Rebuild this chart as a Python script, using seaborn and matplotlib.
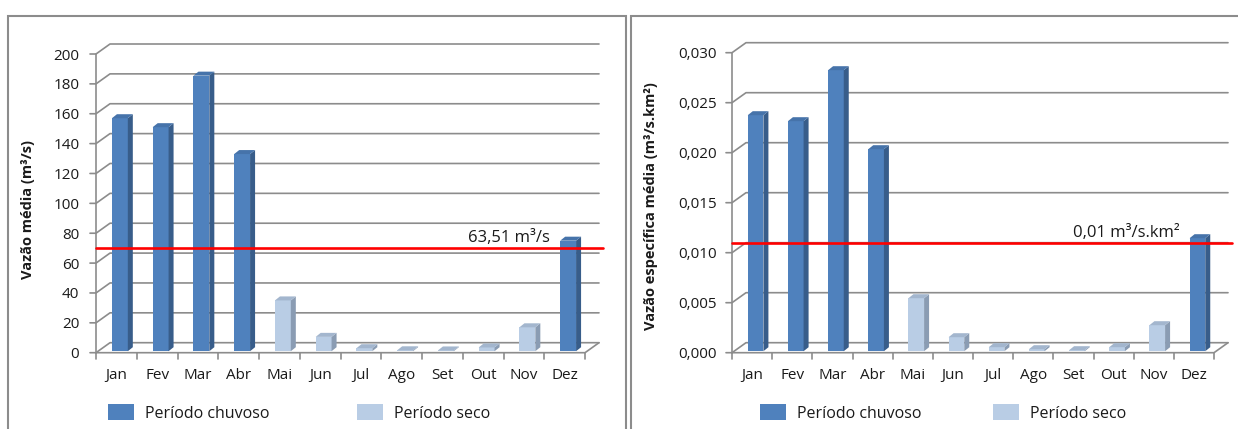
import numpy as np
import pandas as pd
import matplotlib
matplotlib.use("Agg")
import matplotlib.pyplot as plt
import seaborn as sns
from matplotlib.transforms import ScaledTranslation, IdentityTransform
from matplotlib.patches import Polygon, Patch, Rectangle
from matplotlib.lines import Line2D

# ---------------- data ----------------
meses = ["Jan", "Fev", "Mar", "Abr", "Mai", "Jun", "Jul", "Ago", "Set", "Out", "Nov", "Dez"]
periodo = ["Período chuvoso"] * 4 + ["Período seco"] * 7 + ["Período chuvoso"]
vazao_media = [156, 150, 184.5, 132, 34, 9.6, 2.0, 0.6, 0.5, 2.5, 16, 74]
vazao_especifica = [0.0236, 0.0230, 0.0281, 0.0202, 0.0053, 0.0014, 0.0004,
                    0.0002, 0.0001, 0.0004, 0.0026, 0.0113]
media_vazao = 63.51
media_especifica = 0.01
ticks_vazao = [0, 20, 40, 60, 80, 100, 120, 140, 160, 180, 200]
ticks_especifica = [0.0, 0.005, 0.010, 0.015, 0.020, 0.025, 0.030]
rotulos_especifica = ["0,000", "0,005", "0,010", "0,015", "0,020", "0,025", "0,030"]
rotulo_media_vazao = "63,51 m³/s"
rotulo_media_especifica = "0,01 m³/s.km²"
ylabel_vazao = "Vazão média (m³/s)"
ylabel_especifica = "Vazão específica média (m³/s.km²)"
categorias = ["Período chuvoso", "Período seco"]

# ---------------- style ----------------
sns.set_theme(style="white")
plt.rcParams["font.family"] = ["Open Sans", "DejaVu Sans"]
plt.rcParams["text.color"] = "#1a1a1a"

W, H, DPI = 1238, 429, 100
fig = plt.figure(figsize=(W / DPI, H / DPI), dpi=DPI)

front = {"Período chuvoso": "#4F81BD", "Período seco": "#B9CDE5"}
side = {"Período chuvoso": "#385D8A", "Período seco": "#8A9CB3"}
top = {"Período chuvoso": "#4673AA", "Período seco": "#A3B6CE"}
grid_c = "#8C8C8C"
DX, DY = 14, 10      # back-wall offset (px)
BDX, BDY = 5, 4      # bar depth (px)


def panel(rect, values, ticks, ticklabels, ylabel, mean, mean_label,
          ylabel_xy, ypad):
    ax = fig.add_axes([rect[0] / W, 1 - rect[3] / H,
                       (rect[2] - rect[0]) / W, (rect[3] - rect[1]) / H])
    df = pd.DataFrame({"Mês": meses, "Valor": values, "Período": periodo})
    sns.barplot(data=df, x="Mês", y="Valor", hue="Período", hue_order=categorias,
                palette=front, dodge=False, width=0.39, ax=ax, legend=False,
                saturation=1, edgecolor="none", zorder=3)
    ax.set_xlim(-0.5, len(meses) - 0.5)
    ax.set_ylim(ticks[0], ticks[-1])
    ax.set_yticks(ticks)
    ax.set_yticklabels(ticklabels)
    for s in ax.spines.values():
        s.set_visible(False)
    ax.set_facecolor("none")
    ax.tick_params(axis="both", length=0, colors="#1a1a1a")
    ax.tick_params(axis="y", labelsize=11, pad=ypad)
    ax.tick_params(axis="x", labelsize=11, pad=11)
    ax.set_xlabel("")
    ax.set_ylabel(ylabel, fontsize=10.5, fontweight="bold", color="#1a1a1a")
    ax.yaxis.set_label_coords(*ylabel_xy)

    P = lambda x, y: np.array(ax.transData.transform((x, y)))
    ident = IdentityTransform()
    x0, x1 = -0.5, len(meses) - 0.5

    # back wall gridlines + left diagonals
    for v in ticks:
        a = P(x0, v)
        b = a + [DX, DY]
        c = P(x1, v) + [DX, DY]
        ax.add_line(Line2D([a[0] - 6, a[0], b[0], c[0]], [a[1], a[1], b[1], c[1]],
                           transform=ident, color=grid_c, lw=1.2, zorder=1,
                           clip_on=False))
    # vertical front axis
    a, b = P(x0, ticks[0]), P(x0, ticks[-1])
    ax.add_line(Line2D([a[0], b[0]], [a[1], b[1]], transform=ident, color=grid_c,
                       lw=1.2, zorder=2, clip_on=False))
    # floor front edge + right diagonal
    a, b = P(x0, 0), P(x1, 0)
    ax.add_line(Line2D([a[0], b[0], b[0] + DX], [a[1], b[1], b[1] + DY],
                       transform=ident, color=grid_c, lw=1.2, zorder=2, clip_on=False))
    for k in range(len(meses) + 1):
        t = P(x0 + k, 0)
        ax.add_line(Line2D([t[0], t[0]], [t[1], t[1] - 6], transform=ident,
                           color=grid_c, lw=1.2, zorder=2, clip_on=False))

    # 3D bars: add side and top faces to every seaborn bar
    bars = [b for b in ax.patches if np.isfinite(b.get_height())]
    bars.sort(key=lambda b: b.get_x())
    shift = ScaledTranslation(3.5 / DPI, 1.5 / DPI, fig.dpi_scale_trans)
    for bar in bars:
        idx = int(round(bar.get_x() + bar.get_width() / 2))
        per = periodo[idx]
        bar.set_transform(ax.transData + shift)
        bx, by, bw, bh = bar.get_x(), bar.get_y(), bar.get_width(), bar.get_height()
        p0 = P(bx, by) + [3.5, 1.5]
        p1 = P(bx + bw, by + bh) + [3.5, 1.5]
        sidep = [(p1[0], p0[1]), (p1[0], p1[1]), (p1[0] + BDX, p1[1] + BDY),
                 (p1[0] + BDX, p0[1] + BDY)]
        topp = [(p0[0], p1[1]), (p1[0], p1[1]), (p1[0] + BDX, p1[1] + BDY),
                (p0[0] + BDX, p1[1] + BDY)]
        ax.add_patch(Polygon(sidep, closed=True, transform=ident, fc=side[per],
                             ec="none", zorder=3, clip_on=False))
        ax.add_patch(Polygon(topp, closed=True, transform=ident, fc=top[per],
                             ec="none", zorder=3, clip_on=False))

    # mean line (drawn on the back wall)
    a = P(x0, mean) + [0, DY]
    b = P(x1, mean) + [DX + 4, DY]
    ax.add_line(Line2D([a[0], b[0]], [a[1], b[1]], transform=ident, color="#FF0000",
                       lw=1.9, zorder=5, clip_on=False))
    t = P(10.65, mean) + [0, DY + 2]
    ax.text(t[0], t[1], mean_label, transform=ident, ha="right", va="bottom",
            fontsize=12, color="#1a1a1a", zorder=6)
    return ax


ax1 = panel((96, 54, 585, 352.7), vazao_media, ticks_vazao,
            [str(v) for v in ticks_vazao], ylabel_vazao, media_vazao,
            rotulo_media_vazao, (-0.125, 0.478), 12)
ax2 = panel((732, 52.7, 1214, 352.7), vazao_especifica, ticks_especifica,
            rotulos_especifica, ylabel_especifica, media_especifica,
            rotulo_media_especifica, (-0.153, 0.49), 11)

# panel frames
fig.add_artist(Rectangle((8 / W, -0.1), (626 - 8) / W, 1.1 - 16 / H,
                         transform=fig.transFigure, fill=False, ec="#8C8C8C", lw=1.5))
fig.add_artist(Rectangle((631 / W, -0.1), 0.6, 1.1 - 16 / H,
                         transform=fig.transFigure, fill=False, ec="#8C8C8C", lw=1.5))

# legends
leg_x = [(108, 357), (760, 993)]
for xs in leg_x:
    for cat, xp in zip(categorias, xs):
        fig.legend(handles=[Patch(fc=front[cat], ec="none", label=cat)],
                   loc="center left", bbox_to_anchor=(xp / W, 1 - 413 / H),
                   frameon=False, borderpad=0, borderaxespad=0, fontsize=11.5,
                   handlelength=1.63, handleheight=1.1, handletextpad=0.7)

fig.savefig("out.png", dpi=DPI)
